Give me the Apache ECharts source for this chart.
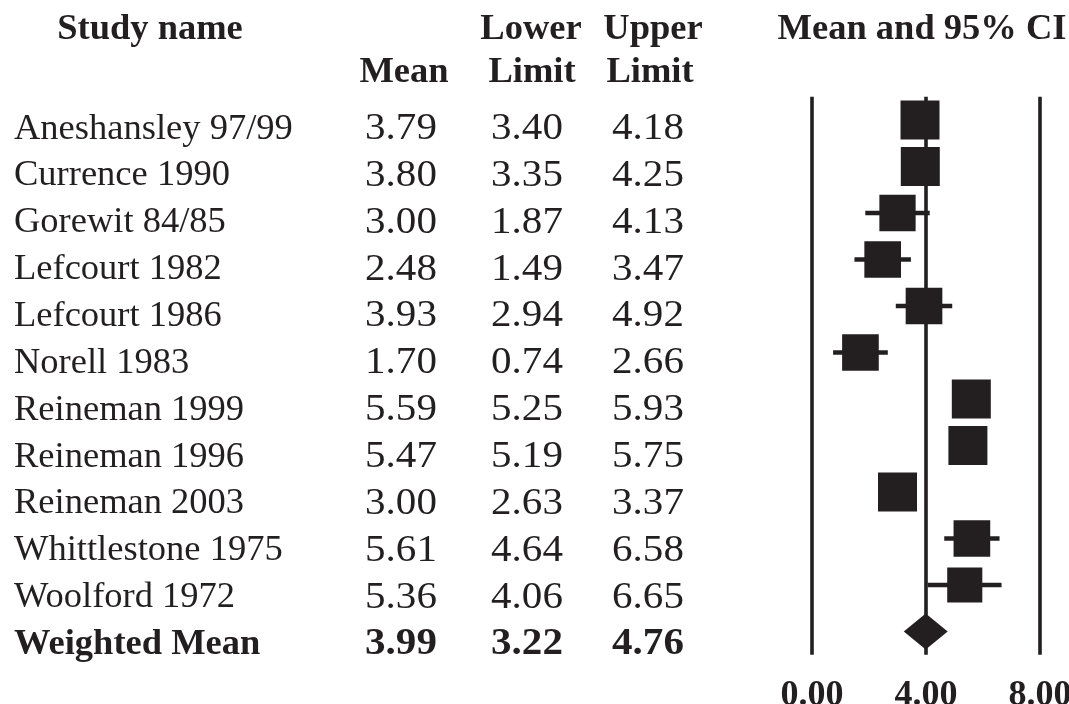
<!DOCTYPE html>
<html>
<head>
<meta charset="utf-8">
<script src="https://cdn.jsdelivr.net/npm/echarts@6/dist/echarts.min.js"></script>
<style>html,body{margin:0;padding:0;background:#fff;}#c{width:1069px;height:704px;}</style>
</head>
<body>
<div id="c"></div>
<script>
// ---- data ----
const studies = ['Aneshansley 97/99','Currence 1990','Gorewit 84/85','Lefcourt 1982','Lefcourt 1986','Norell 1983','Reineman 1999','Reineman 1996','Reineman 2003','Whittlestone 1975','Woolford 1972'];
const means  = [3.79, 3.80, 3.00, 2.48, 3.93, 1.70, 5.59, 5.47, 3.00, 5.61, 5.36];
const lowers = [3.40, 3.35, 1.87, 1.49, 2.94, 0.74, 5.25, 5.19, 2.63, 4.64, 4.06];
const uppers = [4.18, 4.25, 4.13, 3.47, 4.92, 2.66, 5.93, 5.75, 3.37, 6.58, 6.65];
const relWeight = [1.00, 1.00, 0.93, 0.94, 0.94, 0.94, 1.00, 1.00, 1.00, 0.94, 0.90];
const pooledLabel = 'Weighted Mean';
const pooledMean = 3.99, pooledLower = 3.22, pooledUpper = 4.76;
const xTickValues = [0, 4, 8];
const headers1 = ['Study name', 'Lower', 'Upper', 'Mean and 95% CI'];
const headers2 = ['Mean', 'Limit', 'Limit'];

// ---- style ----
const INK = '#231f20';
const FONT = '"Liberation Serif","Times New Roman",serif';
const FS = 36.5;
const FS_NUM = 38;
const NUM_SCALE = 1.08;
const nRows = studies.length + 1;
const colX = {name: 14, mean: 401, lower: 527, upper: 648};

const chart = echarts.init(document.getElementById('c'), null, {renderer: 'canvas'});

const studyData = studies.map((s, i) => [means[i], lowers[i], uppers[i], i, relWeight[i]]);
const tableRows = studies.map((s, i) => [s, means[i], lowers[i], uppers[i], i, 0])
  .concat([[pooledLabel, pooledMean, pooledLower, pooledUpper, studies.length, 1]]);

function txt(x, y, s, align, bold, fs, sx) {
  return {type: 'text', x: x, y: y, scaleX: sx || 1,
    style: {text: s, fill: INK, font: (bold ? 'bold ' : '') + (fs || FS) + 'px ' + FONT, textAlign: align, textVerticalAlign: 'middle'}};
}

chart.setOption({
  animation: false,
  backgroundColor: '#fff',
  grid: [
    {left: 812, right: 29, top: 96.75, height: 558, outerBoundsMode: 'none', containLabel: false},
    {left: 0, width: 760, top: 105.57, height: 562.3, outerBoundsMode: 'none', containLabel: false}
  ],
  xAxis: [{
    type: 'value', min: 0, max: 8, interval: 4, gridIndex: 0,
    axisLine: {show: false}, axisTick: {show: false},
    splitLine: {show: true, lineStyle: {color: INK, width: 3.6}},
    axisLabel: {
      show: true, margin: 23, color: INK, fontFamily: FONT, fontSize: 36, fontWeight: 'bold',
      showMinLabel: true, showMaxLabel: true, hideOverlap: false,
      formatter: v => xTickValues.indexOf(v) >= 0 ? v.toFixed(2) : ''
    }
  }, {
    type: 'value', min: 0, max: 1, gridIndex: 1, show: false
  }],
  yAxis: [
    {type: 'value', min: -0.5, max: nRows - 0.5, inverse: true, show: false, gridIndex: 0},
    {type: 'value', min: -0.5, max: nRows - 0.5, inverse: true, show: false, gridIndex: 1}
  ],
  graphic: [
    txt(150, 29.5, headers1[0], 'center', true),
    txt(531, 29.5, headers1[1], 'center', true),
    txt(653, 29.5, headers1[2], 'center', true),
    txt(922, 29.5, headers1[3], 'center', true),
    txt(404, 73, headers2[0], 'center', true),
    txt(532, 73, headers2[1], 'center', true),
    txt(650, 73, headers2[2], 'center', true)
  ],
  series: [
    {
      type: 'custom', clip: false, z: 3, xAxisIndex: 0, yAxisIndex: 0,
      data: studyData,
      encode: {x: [0, 1, 2], y: 3},
      renderItem: function (params, api) {
        const y = api.coord([0, api.value(3)])[1];
        const xm = api.coord([api.value(0), 0])[0];
        const xl = api.coord([api.value(1), 0])[0];
        const xu = api.coord([api.value(2), 0])[0];
        const s = 39 * api.value(4);
        return {type: 'group', children: [
          {type: 'line', shape: {x1: xl, y1: y, x2: xu, y2: y}, style: {stroke: INK, lineWidth: 4.5}},
          {type: 'rect', shape: {x: xm - s / 2, y: y - s / 2, width: s, height: s}, style: {fill: INK}}
        ]};
      }
    },
    {
      type: 'custom', clip: false, z: 3, xAxisIndex: 0, yAxisIndex: 0,
      data: [[pooledMean, pooledLower, pooledUpper, studies.length]],
      encode: {x: [0, 1, 2], y: 3},
      renderItem: function (params, api) {
        const y = api.coord([0, api.value(3)])[1];
        const xm = api.coord([api.value(0), 0])[0];
        const xl = api.coord([api.value(1), 0])[0];
        const xu = api.coord([api.value(2), 0])[0];
        const h = 18;
        return {type: 'polygon', shape: {points: [[xl, y], [xm, y - h], [xu, y], [xm, y + h]]}, style: {fill: INK}};
      }
    },
    {
      type: 'custom', clip: false, silent: true, xAxisIndex: 1, yAxisIndex: 1,
      data: tableRows.map(r => [0, r[4]]),
      encode: {x: 0, y: 1},
      renderItem: function (params, api) {
        const r = tableRows[params.dataIndex];
        const y = api.coord([0, api.value(1)])[1];
        const b = r[5] === 1;
        return {type: 'group', children: [
          txt(colX.name, y, r[0], 'left', b),
          txt(colX.mean, y, r[1].toFixed(2), 'center', b, FS_NUM, NUM_SCALE),
          txt(colX.lower, y, r[2].toFixed(2), 'center', b, FS_NUM, NUM_SCALE),
          txt(colX.upper, y, r[3].toFixed(2), 'center', b, FS_NUM, NUM_SCALE)
        ]};
      }
    }
  ]
});
</script>
</body>
</html>
